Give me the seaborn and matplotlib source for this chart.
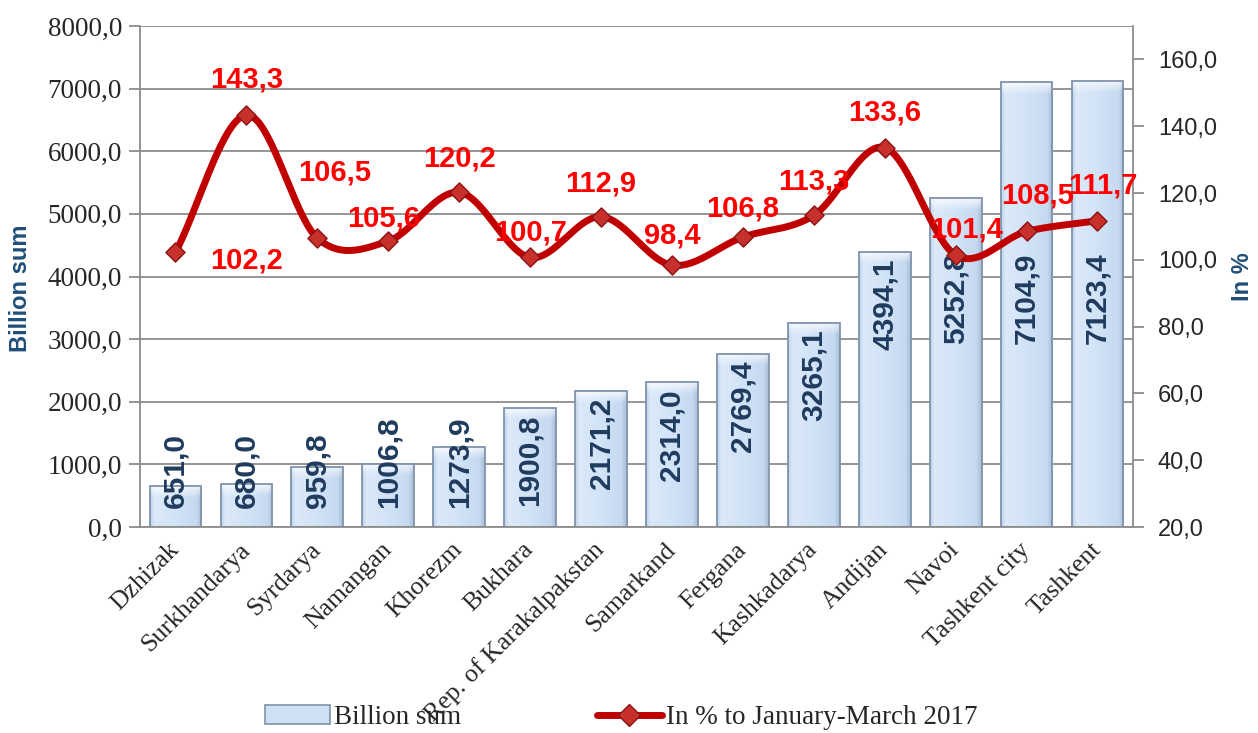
import numpy as np
import matplotlib
matplotlib.use("Agg")
import matplotlib.pyplot as plt
import seaborn as sns
from matplotlib.lines import Line2D
from matplotlib.patches import Patch
from matplotlib.colors import to_rgb
from matplotlib.ticker import FuncFormatter

regions = ["Dzhizak", "Surkhandarya", "Syrdarya", "Namangan", "Khorezm", "Bukhara",
           "Rep. of Karakalpakstan", "Samarkand", "Fergana", "Kashkadarya", "Andijan",
           "Navoi", "Tashkent city", "Tashkent"]
billion_sum = [651.0, 680.0, 959.8, 1006.8, 1273.9, 1900.8, 2171.2, 2314.0, 2769.4,
               3265.1, 4394.1, 5252.8, 7104.9, 7123.4]
pct_prev = [102.2, 143.3, 106.5, 105.6, 120.2, 100.7, 112.9, 98.4, 106.8, 113.3,
            133.6, 101.4, 108.5, 111.7]

# label offsets for the red % labels, in pixels (dx, dy)
pct_offsets = [(71, -8), (0, 36), (17, 66), (-5, 23), (0, 34), (0, 25), (0, 33),
               (0, 30), (0, 29), (0, 34), (0, 35), (11, 26), (11, 36), (5, 35)]

BAR_FACE = "#cfe0f5"
BAR_EDGE = "#7f93ad"
LINE_RED = "#c00000"
NAVY = "#1f3b5e"
AXIS_BLUE = "#1f4e79"
GRID = "#8c8c8c"


def comma(v, pos=None):
    return f"{v:.1f}".replace(".", ",")


def smooth(y, n=40):
    # Catmull-Rom curve through the points, like Excel's smoothed line
    y = np.asarray(y, float)
    p = np.concatenate([[2 * y[0] - y[1]], y, [2 * y[-1] - y[-2]]])
    xs, ys = [], []
    t = np.linspace(0, 1, n)
    for i in range(len(y) - 1):
        p0, p1, p2, p3 = p[i], p[i + 1], p[i + 2], p[i + 3]
        seg = 0.5 * (2 * p1 + (-p0 + p2) * t + (2 * p0 - 5 * p1 + 4 * p2 - p3) * t ** 2
                     + (-p0 + 3 * p1 - 3 * p2 + p3) * t ** 3)
        xs.append(i + t)
        ys.append(seg)
    return np.concatenate(xs), np.concatenate(ys)


def bevel_fill(ax, patch, top_units):
    # soft horizontal gradient plus a pale band at the top of the bar
    x0, y0 = patch.get_x(), patch.get_y()
    w, h = patch.get_width(), patch.get_height()
    nx, ny = 60, 300
    u = np.linspace(0, 1, nx)
    stops = np.array([0.0, 0.08, 0.45, 0.9, 1.0])
    cols = np.array([to_rgb(c) for c in ("#bfd2ea", "#dbe9f9", "#d3e4f7", "#c6d9f0", "#a9bdd8")])
    row = np.stack([np.interp(u, stops, cols[:, c]) for c in range(3)], axis=1)
    img = np.repeat(row[None, :, :], ny, axis=0)
    yy = np.linspace(h, 0, ny)  # from top down
    depth = (h - yy) / top_units
    a = np.clip(1 - depth, 0, 1)[:, None, None] * 0.75
    img = img * (1 - a) + a
    im = ax.imshow(img, extent=(x0, x0 + w, y0, y0 + h), aspect="auto",
                   interpolation="bilinear", zorder=2.1, origin="upper")
    im.set_clip_path(patch)


sns.set_style("white")
plt.rcParams["font.family"] = ["Liberation Sans", "DejaVu Sans"]
serif = "Liberation Serif"

fig = plt.figure(figsize=(12.58, 7.33), dpi=100)
ax = fig.add_axes([0.1113, 0.281, 0.7893, 0.6835])

sns.barplot(x=regions, y=billion_sum, color=BAR_FACE, saturation=1, width=0.73,
            edgecolor=BAR_EDGE, linewidth=1.3, ax=ax, zorder=2)

ax.set_ylim(0, 8000)
ax.set_xlim(-0.5, len(regions) - 0.5)
for p in list(ax.patches):
    bevel_fill(ax, p, 190)
    p.set_zorder(2.2)
    p.set_facecolor("none")
ax.set_ylim(0, 8000)
ax.set_xlim(-0.5, len(regions) - 0.5)
ax.set_yticks(np.arange(0, 8001, 1000))
ax.yaxis.set_major_formatter(FuncFormatter(comma))
ax.yaxis.grid(True, color=GRID, lw=1.3)
ax.set_axisbelow(True)
ax.set_xlabel("")
ax.set_ylabel("")
for s in ["left", "bottom", "right"]:
    ax.spines[s].set_color(GRID)
    ax.spines[s].set_linewidth(1.3)
ax.spines["top"].set_visible(False)
ax.tick_params(axis="y", length=8, color=GRID, width=1.3, labelsize=19.5, pad=5)
for lbl in ax.get_yticklabels():
    lbl.set_fontfamily(serif)

# category ticks sit between bars
ax.set_xticks(np.arange(-0.5, len(regions), 1.0), minor=True)
ax.tick_params(axis="x", which="minor", length=8, color=GRID, width=1.3)
ax.tick_params(axis="x", which="major", length=0, pad=14)
ax.set_xticks(range(len(regions)))
ax.set_xticklabels(regions, rotation=45, ha="right", va="center",
                   rotation_mode="anchor", fontsize=18.5, fontfamily=serif)

# bar value labels
for i, v in enumerate(billion_sum):
    txt = comma(v)
    span = 1440 if len(txt) > 5 else 1200
    top = min(v - 110, 4380)
    if top - span < 300:
        ax.text(i, 300, txt, rotation=90, ha="center", va="bottom", fontsize=21.5,
                fontweight="bold", color=NAVY, zorder=4)
    else:
        ax.text(i, top, txt, rotation=90, ha="center", va="top", fontsize=21.5,
                fontweight="bold", color=NAVY, zorder=4)

ax2 = ax.twinx()
ax2.set_ylim(20, 170)
ax2.set_yticks(np.arange(20, 161, 20))
ax2.yaxis.set_major_formatter(FuncFormatter(comma))
ax2.tick_params(axis="y", length=8, color=GRID, width=1.3, labelsize=17, pad=10)
for s in ax2.spines.values():
    s.set_visible(False)

sx, sy = smooth(pct_prev)
ax2.plot(sx, sy, color=LINE_RED, lw=5, solid_capstyle="round", zorder=3)
sns.scatterplot(x=range(len(pct_prev)), y=pct_prev, marker="D", s=95,
                color="#c8302c", edgecolor="#8b1212", linewidth=1, ax=ax2, zorder=4)

for i, (v, (dx, dy)) in enumerate(zip(pct_prev, pct_offsets)):
    ax2.annotate(comma(v), (i, v), xytext=(dx * 0.72, dy * 0.72), textcoords="offset points",
                 ha="center", va="center", fontsize=21, fontweight="bold", color="#ff0000",
                 zorder=5)

fig.text(0.016, 0.607, "Billion sum", rotation=90, ha="center", va="center",
         fontsize=17, fontweight="bold", color=AXIS_BLUE)
fig.text(0.988, 0.622, "In %", rotation=90, ha="center", va="center",
         fontsize=17, fontweight="bold", color=AXIS_BLUE)

handles = [Patch(facecolor=BAR_FACE, edgecolor=BAR_EDGE, linewidth=1.2),
           Line2D([0], [0], color=LINE_RED, lw=5, marker="D", markersize=11,
                  markerfacecolor="#c8302c", markeredgecolor="#8b1212")]
fig.legend(handles, ["Billion sum", "In % to January-March 2017"], loc="center",
           bbox_to_anchor=(0.494, 0.021), ncol=2, frameon=False,
           prop={"family": serif, "size": 19.5}, columnspacing=5.0, handlelength=2.4,
           handletextpad=0.15)

fig.savefig("out.png", dpi=100)
